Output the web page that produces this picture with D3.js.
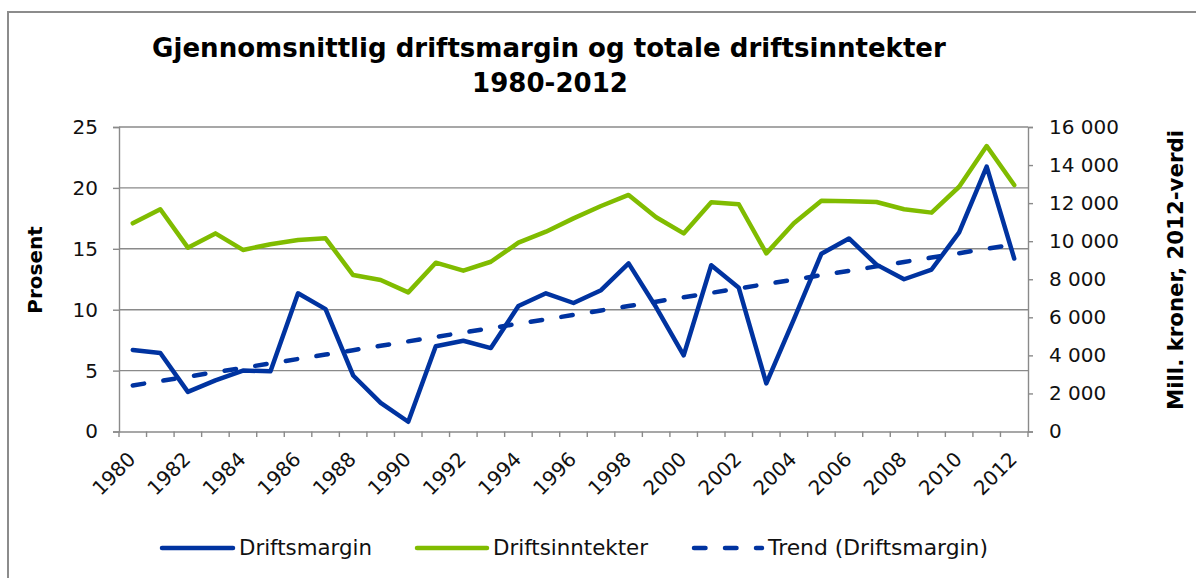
<!DOCTYPE html>
<html><head><meta charset="utf-8">
<script src="https://cdn.jsdelivr.net/npm/d3@7"></script>
<style>
html,body{margin:0;padding:0;background:#fff;}
svg{display:block;font-family:"DejaVu Sans",Verdana,sans-serif;}
</style></head><body>
<svg id="chart" width="1196" height="578"></svg>
<script>
// ---------- DATA ----------
const years = [1980,1981,1982,1983,1984,1985,1986,1987,1988,1989,1990,1991,1992,1993,1994,1995,1996,
               1997,1998,1999,2000,2001,2002,2003,2004,2005,2006,2007,2008,2009,2010,2011,2012];
const yearLabels = [1980,1982,1984,1986,1988,1990,1992,1994,1996,1998,2000,2002,2004,2006,2008,2010,2012];
// Driftsmargin (prosent, left axis)
const driftsmargin = [6.7,6.45,3.25,4.2,5.0,4.95,11.35,10.05,4.6,2.35,0.8,7.0,7.45,6.85,10.3,11.35,10.55,
                      11.6,13.8,10.2,6.25,13.65,11.8,3.95,9.2,14.6,15.85,13.7,12.5,13.3,16.35,21.75,14.2];
// Driftsinntekter (mill. kroner, 2012-verdi, right axis)
const driftsinntekter = [10940,11680,9660,10410,9540,9840,10060,10150,8220,7960,7310,8870,8450,8920,9920,10500,11200,
                         11850,12430,11260,10410,12040,11940,9360,10940,12130,12100,12060,11680,11500,12860,15000,12950];
const leftTicks = [0,5,10,15,20,25];
const rightTicks = [0,2000,4000,6000,8000,10000,12000,14000,16000];
const titleLines = ["Gjennomsnittlig driftsmargin og totale driftsinntekter","1980-2012"];
const seriesNames = ["Driftsmargin","Driftsinntekter","Trend (Driftsmargin)"];

// ---------- LAYOUT ----------
const BLUE = "#0033a0", GREEN = "#80bc00", GRID = "#8a8a8a", AXIS = "#8a8a8a";
const L = 119, R = 1028, T = 127, B = 431.5;
const svg = d3.select("#chart");

svg.append("rect").attr("x",8).attr("y",12).attr("width",1300).attr("height",700)
  .attr("fill","#fff").attr("stroke","#8c8c8c").attr("stroke-width",2);

const x = d3.scaleBand().domain(years).range([L,R]).paddingInner(0).paddingOuter(0);
const yL = d3.scaleLinear().domain([0,25]).range([B,T]);
const yR = d3.scaleLinear().domain([0,16000]).range([B,T]);
const cx = d => x(d) + x.bandwidth()/2;

function fitWidth(sel, w){
  const cur = sel.node().getComputedTextLength();
  const fs = parseFloat(sel.attr("font-size"));
  sel.attr("font-size", (fs*w/cur).toFixed(2));
}

// title
const t1 = svg.append("text").attr("x",549).attr("y",56.5).attr("text-anchor","middle")
  .attr("font-weight","bold").attr("font-size",22).text(titleLines[0]);
fitWidth(t1, 794);
const t2 = svg.append("text").attr("x",550).attr("y",91.5).attr("text-anchor","middle")
  .attr("font-weight","bold").attr("font-size",22).text(titleLines[1]);
t2.attr("font-size", t1.attr("font-size"));

// gridlines
svg.append("g").selectAll("line").data(leftTicks.filter(d=>d>0)).join("line")
  .attr("x1",L).attr("x2",R).attr("y1",d=>yL(d)).attr("y2",d=>yL(d))
  .attr("stroke",GRID).attr("stroke-width",1.4);

// left axis
const fmtL = d3.format("d");
const gL = svg.append("g").attr("transform",`translate(${L},0)`)
  .call(d3.axisLeft(yL).tickValues(leftTicks).tickSize(6).tickPadding(15).tickFormat(fmtL));
gL.select(".domain").attr("stroke",AXIS).attr("stroke-width",1.4);
gL.selectAll(".tick line").attr("stroke",AXIS).attr("stroke-width",1.4);
gL.selectAll(".tick text").attr("font-size",20).attr("fill","#111").attr("font-family","DejaVu Sans");

// right axis
const loc = d3.formatLocale({decimal:",",thousands:"\u00a0",grouping:[3],currency:["",""]});
const fmtR = loc.format(",d");
const gR = svg.append("g").attr("transform",`translate(${R},0)`)
  .call(d3.axisRight(yR).tickValues(rightTicks).tickSize(5).tickPadding(16).tickFormat(fmtR));
gR.select(".domain").attr("stroke",AXIS).attr("stroke-width",1.4);
gR.selectAll(".tick line").attr("stroke",AXIS).attr("stroke-width",1.4);
gR.selectAll(".tick text").attr("font-size",20).attr("fill","#111").attr("font-family","DejaVu Sans");

// bottom axis
const gB = svg.append("g").attr("transform",`translate(0,${B})`)
  .call(d3.axisBottom(x).tickValues(yearLabels).tickSize(0).tickPadding(0));
gB.select(".domain").attr("stroke",AXIS).attr("stroke-width",1.4);
gB.selectAll(".tick text").attr("font-size",20).attr("fill","#111").attr("font-family","DejaVu Sans")
  .attr("text-anchor","end").attr("dy",null).attr("y",null)
  .attr("transform","translate(4,29) rotate(-45)");
// boundary tick marks
const bounds = years.map(d=>x(d)).concat([x(years[years.length-1])+x.bandwidth()]);
gB.append("g").selectAll("line").data(bounds).join("line")
  .attr("x1",d=>d).attr("x2",d=>d).attr("y1",0).attr("y2",5.5)
  .attr("stroke",AXIS).attr("stroke-width",1.4);

// axis titles
svg.append("text").attr("transform","translate(42,270) rotate(-90)")
  .attr("text-anchor","middle").attr("font-weight","bold").attr("font-size",20).text("Prosent");
const at2 = svg.append("text").attr("transform","translate(1183,270) rotate(-90)")
  .attr("text-anchor","middle").attr("font-weight","bold").attr("font-size",19).text("Mill. kroner, 2012-verdi");
fitWidth(at2, 280);

// series
const lineL = d3.line().x((d,i)=>cx(years[i])).y(d=>yL(d));
const lineR = d3.line().x((d,i)=>cx(years[i])).y(d=>yR(d));
svg.append("path").datum(driftsinntekter).attr("d",lineR).attr("fill","none")
  .attr("stroke",GREEN).attr("stroke-width",4.5).attr("stroke-linejoin","round").attr("stroke-linecap","round");
svg.append("path").datum(driftsmargin).attr("d",lineL).attr("fill","none")
  .attr("stroke",BLUE).attr("stroke-width",4.5).attr("stroke-linejoin","round").attr("stroke-linecap","round");

// linear trend of Driftsmargin (least squares, as the spreadsheet trendline)
const idx = years.map((d,i)=>i);
const mx = d3.mean(idx), my = d3.mean(driftsmargin);
const slope = d3.sum(idx,(i)=>(i-mx)*(driftsmargin[i]-my)) / d3.sum(idx,(i)=>(i-mx)*(i-mx));
const icpt = my - slope*mx;
const trend = idx.map(i=>icpt+slope*i);
svg.append("path").datum(trend).attr("d",lineL).attr("fill","none")
  .attr("stroke",BLUE).attr("stroke-width",4.5).attr("stroke-linecap","round")
  .attr("stroke-dasharray","11.5,19.5");

// legend
const LY = 548;
const legend = [
  {name:seriesNames[0], color:BLUE, dash:null, x0:162, x1:233, tx:239, w:133},
  {name:seriesNames[1], color:GREEN, dash:null, x0:417, x1:487, tx:493, w:155},
  {name:seriesNames[2], color:BLUE, dash:"11.5,19.5", x0:694, x1:762, tx:768, w:220}
];
const lg = svg.append("g");
legend.forEach(it=>{
  lg.append("line").attr("x1",it.x0).attr("x2",it.x1).attr("y1",LY).attr("y2",LY)
    .attr("stroke",it.color).attr("stroke-width",4.5).attr("stroke-linecap","round")
    .attr("stroke-dasharray",it.dash);
  const t = lg.append("text").attr("x",it.tx).attr("y",555).attr("font-size",20).attr("fill","#111").text(it.name);
  fitWidth(t, it.w);
});
</script>
</body></html>
